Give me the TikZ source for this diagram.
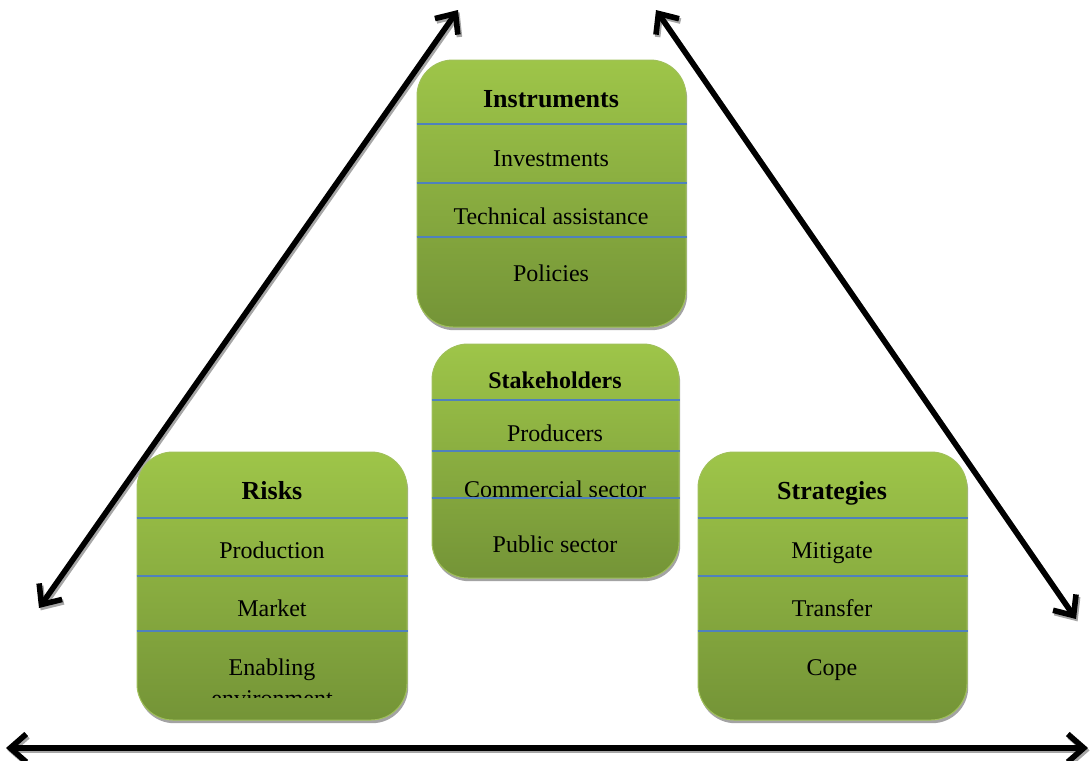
\documentclass[tikz,border=0pt]{standalone}
\usepackage{fontspec}
\setmainfont{Liberation Serif}
\usetikzlibrary{arrows.meta,shadows}
\definecolor{gtop}{RGB}{158,197,73}
\definecolor{gmid}{RGB}{140,176,64}
\definecolor{gbot}{RGB}{116,148,55}
\definecolor{gedge}{RGB}{160,192,90}
\definecolor{sepblue}{RGB}{79,129,189}

\tikzset{
  panel/.style={rectangle, rounded corners=18pt, inner sep=0pt,
    top color=gtop, middle color=gmid, bottom color=gbot,
    draw=gedge, line width=0.5pt,
    drop shadow={shadow xshift=0.6pt, shadow yshift=-1.6pt, fill=black!45, opacity=0.8}},
  head/.style={font=\bfseries\fontsize{13}{15}\selectfont, inner sep=0pt, anchor=base},
  subhead/.style={font=\bfseries\fontsize{12}{14}\selectfont, inner sep=0pt, anchor=base},
  item/.style={font=\fontsize{12}{14}\selectfont, inner sep=0pt, anchor=base},
  sepline/.style={draw=sepblue, line width=0.7pt},
  tips/.style={{Straight Barb[length=8pt,width=14pt]}-{Straight Barb[length=8pt,width=14pt]}},
  bigarrow/.style={tips, line width=2.8pt, black},
  arrowshade/.style={tips, line width=2.8pt, black!35,
    transform canvas={shift={(0.8pt,-1.2pt)}}},
}

\begin{document}
\begin{tikzpicture}[x=0.5pt,y=-0.5pt]
\useasboundingbox (0,0) rectangle (1090,760);

% double-headed arrows framing the triangle
\coordinate (ltop) at (458,10);
\coordinate (lbot) at (39,608);
\coordinate (rtop) at (656,10);
\coordinate (rbot) at (1076,619);
\coordinate (bl) at (6,748);
\coordinate (br) at (1088,748);
\draw[arrowshade] (lbot) -- (ltop);
\draw[arrowshade] (rtop) -- (rbot);
\draw[arrowshade] (bl) -- (br);
\draw[bigarrow] (lbot) -- (ltop);
\draw[bigarrow] (rtop) -- (rbot);
\draw[bigarrow] (bl) -- (br);

% Instruments
\node[panel, minimum width=134.5pt, minimum height=133.5pt] (ins) at (551.5,193.5) {};
\draw[sepline] (ins.west |- 0,124) -- (ins.east |- 0,124);
\draw[sepline] (ins.west |- 0,183) -- (ins.east |- 0,183);
\draw[sepline] (ins.west |- 0,237) -- (ins.east |- 0,237);
\node[head] (insH) at (551,107) {Instruments};
\node[item] (ins1) at (551,166) {Investments};
\node[item] (ins2) at (551,224) {Technical assistance};
\node[item] (ins3) at (551,281) {Policies};

% Stakeholders
\node[panel, minimum width=123.5pt, minimum height=117pt] (stk) at (555.5,461) {};
\draw[sepline] (stk.west |- 0,400) -- (stk.east |- 0,400);
\draw[sepline] (stk.west |- 0,451) -- (stk.east |- 0,451);
\node[subhead] (stkH) at (555,388) {Stakeholders};
\node[item] (stk1) at (555,441) {Producers};
\node[item] (stk2) at (555,497) {Commercial sector};
\draw[sepline] (stk.west |- 0,498) -- (stk.east |- 0,498);
\node[item] (stk3) at (555,552) {Public sector};

% Risks
\node[panel, minimum width=135pt, minimum height=134pt] (risk) at (272,586) {};
\draw[sepline] (risk.west |- 0,518) -- (risk.east |- 0,518);
\draw[sepline] (risk.west |- 0,576) -- (risk.east |- 0,576);
\draw[sepline] (risk.west |- 0,631) -- (risk.east |- 0,631);
\node[head] (riskH) at (272,499) {Risks};
\node[item] (risk1) at (272,558) {Production};
\node[item] (risk2) at (272,616) {Market};
\node[item] (risk3) at (272,675) {Enabling};
\begin{scope}
  \clip (risk.west |- 0,640) rectangle (risk.east |- 0,697);
  \node[item] (risk3b) at (272,706) {environment};
\end{scope}

% Strategies
\node[panel, minimum width=134.5pt, minimum height=134pt] (str) at (832.5,586) {};
\draw[sepline] (str.west |- 0,518) -- (str.east |- 0,518);
\draw[sepline] (str.west |- 0,576) -- (str.east |- 0,576);
\draw[sepline] (str.west |- 0,631) -- (str.east |- 0,631);
\node[head] (strH) at (832,499) {Strategies};
\node[item] (str1) at (832,558) {Mitigate};
\node[item] (str2) at (832,616) {Transfer};
\node[item] (str3) at (832,675) {Cope};
\end{tikzpicture}
\end{document}
